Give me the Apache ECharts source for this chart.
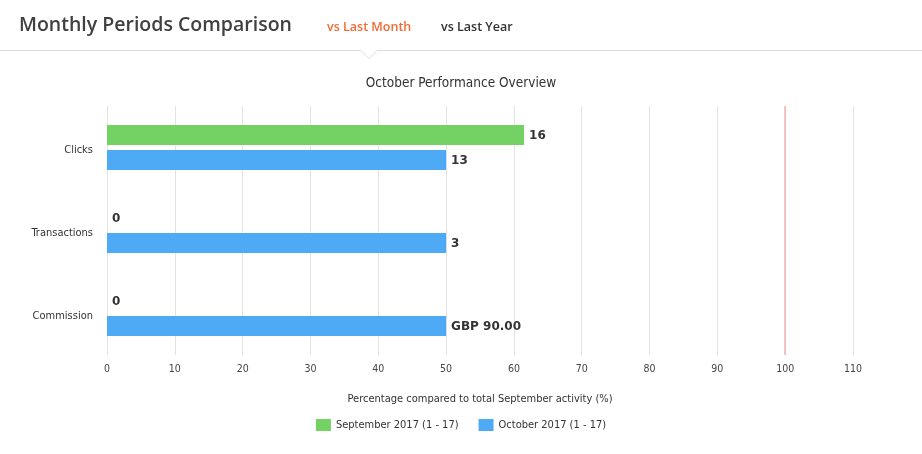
<!DOCTYPE html>
<html>
<head>
<meta charset="utf-8">
<script src="https://cdn.jsdelivr.net/npm/echarts@6/dist/echarts.min.js"></script>
<style>
  html, body { margin: 0; padding: 0; background: #fff; }
  #chart { width: 922px; height: 454px; }
</style>
</head>
<body>
<div id="chart"></div>
<script>
// data
const categories = ["Clicks", "Transactions", "Commission"];
const seriesNames = ["September 2017 (1 - 17)", "October 2017 (1 - 17)"];
// percentage compared to total September activity
const septemberValues = [61.5, 0, 0];
const octoberValues = [50, 50, 50];
// label texts shown next to the bars
const septemberLabels = ["16", "0", "0"];
const octoberLabels = ["13", "3", "GBP 90.00"];
const xTicks = { min: 0, max: 110, interval: 10 };
const referenceLine = 100;

const chart = echarts.init(document.getElementById("chart"));

const labelStyle = (texts) => ({
  show: true,
  position: "right",
  distance: 5,
  offset: [0, 1],
  color: "#333",
  fontWeight: "bold",
  fontSize: 12,
  fontFamily: "DejaVu Sans",
  formatter: (p) => texts[p.dataIndex],
});

chart.setOption({
  textStyle: { fontFamily: "DejaVu Sans Condensed" },
  title: [
    {
      text: "Monthly Periods Comparison",
      left: 14,
      top: 10,
      textStyle: { fontFamily: "Open Sans", fontSize: 19.5, fontWeight: 600, color: "#404040" },
    },
    {
      text: "vs Last Month",
      left: 322,
      top: 16,
      textStyle: { fontFamily: "Open Sans", fontSize: 12.5, fontWeight: 600, color: "#f26b36" },
    },
    {
      text: "vs Last Year",
      left: 436,
      top: 16,
      textStyle: { fontFamily: "Open Sans", fontSize: 12.5, fontWeight: 600, color: "#333" },
    },
    {
      text: "October Performance Overview",
      left: "center",
      top: 71,
      textStyle: { fontFamily: "DejaVu Sans Condensed", fontSize: 13.5, fontWeight: "normal", color: "#333" },
    },
  ],
  graphic: [
    {
      type: "polyline",
      shape: { points: [[0, 50.5], [361, 50.5], [369, 58.5], [377, 50.5], [922, 50.5]] },
      style: { stroke: "#dcdcdc", lineWidth: 1, fill: null },
    },
  ],
  legend: {
    top: 414,
    left: "center",
    icon: "rect",
    itemWidth: 15,
    itemHeight: 12,
    itemGap: 20,
    textStyle: { fontFamily: "DejaVu Sans Condensed", fontSize: 11, color: "#333" },
    data: seriesNames,
  },
  grid: { left: 107, right: 69, top: 106, bottom: 99, containLabel: false },
  xAxis: {
    type: "value",
    min: xTicks.min,
    max: xTicks.max,
    interval: xTicks.interval,
    name: "Percentage compared to total September activity (%)",
    nameLocation: "middle",
    nameGap: 39,
    nameTextStyle: { fontFamily: "DejaVu Sans Condensed", fontSize: 11, color: "#333" },
    axisLine: { show: false },
    axisTick: { show: false },
    axisLabel: { fontSize: 10.5, color: "#444", margin: 8, padding: [1, 0, 0, 0] },
    splitLine: { show: true, lineStyle: { color: "#e3e3e3" } },
  },
  yAxis: {
    type: "category",
    inverse: true,
    data: categories,
    axisLine: { show: false },
    axisTick: { show: false },
    axisLabel: {
      color: "#333",
      margin: 14,
      formatter: (v) => "{a|" + v + "}",
      rich: { a: { fontSize: 11, color: "#333", fontFamily: "DejaVu Sans Condensed", padding: [5, 0, 0, 0] } },
    },
  },
  series: [
    {
      name: seriesNames[0],
      type: "bar",
      data: septemberValues,
      barWidth: 20,
      barGap: "25%",
      itemStyle: { color: "#74d264" },
      label: labelStyle(septemberLabels),
      markLine: {
        silent: true,
        symbol: ["none", "none"],
        label: { show: false },
        lineStyle: { color: "#f3b3b3", type: "solid", width: 1.5, opacity: 1 },
        data: [{ xAxis: referenceLine }],
      },
    },
    {
      name: seriesNames[1],
      type: "bar",
      data: octoberValues,
      barWidth: 20,
      barGap: "25%",
      itemStyle: { color: "#4faaf6" },
      label: labelStyle(octoberLabels),
    },
  ],
});
</script>
</body>
</html>
